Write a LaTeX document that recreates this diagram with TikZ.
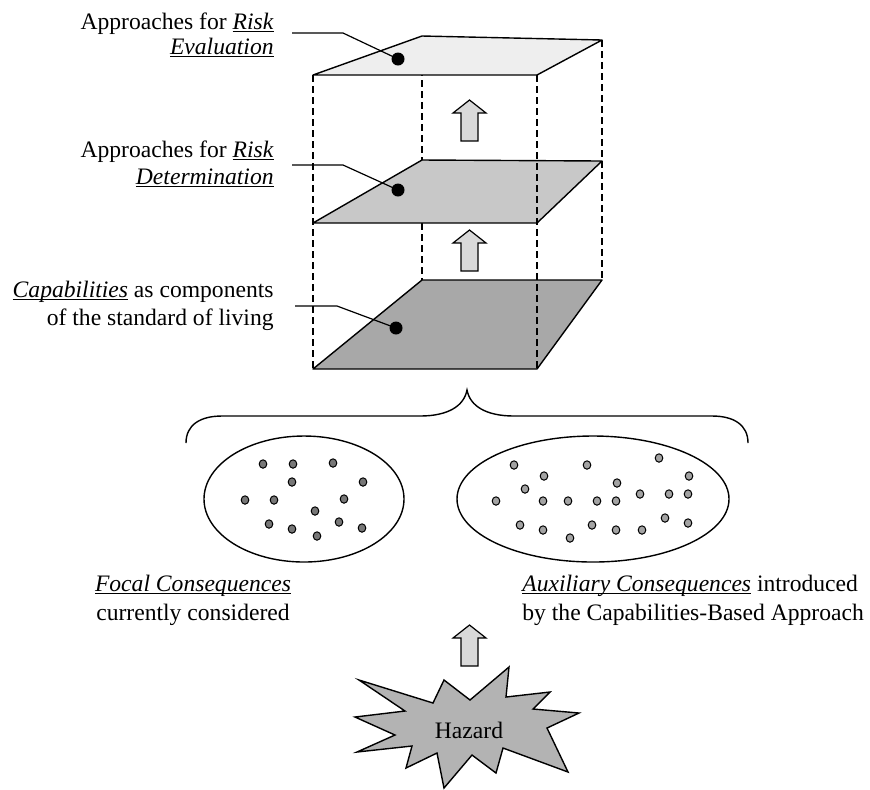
\documentclass[tikz,border=0pt]{standalone}
\usepackage{fontspec}
\setmainfont{Liberation Serif}
\usetikzlibrary{shapes.geometric}
\definecolor{topfill}{HTML}{EEEEEE}
\definecolor{midfill}{HTML}{C8C8C8}
\definecolor{botfill}{HTML}{A8A8A8}
\definecolor{arrowfill}{HTML}{D9D9D9}
\definecolor{hazfill}{HTML}{B3B3B3}
\definecolor{darkdot}{HTML}{777777}
\definecolor{lightdot}{HTML}{A3A3A3}
\newcommand{\uit}[1]{\underline{\smash{\textit{#1}}}}
\begin{document}
\begin{tikzpicture}[x=0.5pt,y=-0.5pt,
  lbl/.style={font=\fontsize{11.8}{14}\selectfont, inner sep=0pt},
  plane/.style={draw=black, line width=0.7pt, line join=round},
  hid/.style={dash pattern=on 3.5pt off 2pt, line width=0.6pt},
  lead/.style={line width=0.6pt},
  bigdot/.style={circle, fill=black, minimum size=6.5pt, inner sep=0pt},
  setdot/.style={ellipse, draw=black, line width=0.5pt, minimum width=3.8pt, minimum height=4.2pt, inner sep=0pt},
  blob/.style={draw=black, line width=0.7pt},
  blockup/.pic={\draw[fill=arrowfill, line width=0.6pt] (-8.5,41)--(-8.5,13)--(-16.5,13)--(0,0)--(16.5,13)--(8.5,13)--(8.5,41)--cycle;}
]
\useasboundingbox (0,0) rectangle (870,789);

% hidden edges behind the planes
\draw[hid] (422,36) -- (422,368);
\draw[hid] (602,40) -- (602,280);

% planes
\draw[plane, fill=botfill] (422,280) -- (602,280) -- (537,369) -- (313,369) -- cycle;
\draw[plane, fill=midfill] (422,160) -- (602,161) -- (537,223) -- (313,223) -- cycle;
\draw[plane, fill=topfill] (422,36) -- (602,40) -- (537,75) -- (313,75) -- cycle;

% front vertical edges
\draw[hid] (313,75) -- (313,369);
\draw[hid] (537,75) -- (537,369);

% arrows between layers
\pic at (469.5,100) {blockup};
\pic at (469.5,230) {blockup};
\pic at (469.5,625) {blockup};

% layer dots
\node[bigdot] (d1) at (398,59) {};
\node[bigdot] (d2) at (398,190) {};
\node[bigdot] (d3) at (396,328) {};

% labels
\node[lbl, anchor=base east] (l1a) at (274,29) {Approaches for \uit{Risk}};
\node[lbl, anchor=base east] (l1b) at (274,54) {\uit{Evaluation}};
\node[lbl, anchor=base east] (l2a) at (274,157) {Approaches for \uit{Risk}};
\node[lbl, anchor=base east] (l2b) at (274,184) {\uit{Determination}};
\node[lbl, anchor=base east] (l3a) at (274,297) {\uit{Capabilities} as components};
\node[lbl, anchor=base east] (l3b) at (274,325) {of the standard of living};

% leaders
\coordinate (s1) at (292,33); \coordinate (b1) at (343,33);
\coordinate (s2) at (292,165); \coordinate (b2) at (343,165);
\coordinate (s3) at (295,306); \coordinate (b3) at (337,306);
\draw[lead] (s1) -- (b1) -- (d1.center);
\draw[lead] (s2) -- (b2) -- (d2.center);
\draw[lead] (s3) -- (b3) -- (d3.center);

% brace
\draw[line width=0.7pt] (186,443) .. controls (186,425) and (200,416) .. (222,416) -- (420,416)
  .. controls (448,416) and (464,406) .. (467,390)
  .. controls (470,406) and (486,416) .. (514,416) -- (712,416)
  .. controls (734,416) and (748,425) .. (748,443);

% consequence sets
\node[blob, ellipse, minimum width=100pt, minimum height=63pt, inner sep=0pt] (focal) at (304,499) {};
\node[blob, ellipse, minimum width=136pt, minimum height=63pt, inner sep=0pt] (aux) at (593,499) {};

\foreach \p [count=\i] in {(263,464),(293,464),(333,463),(292,482),(363,482),(245,500),(274,500),(344,499),(315,511),(269,524),(292,529),(339,522),(362,528),(317,536)}
  \node[setdot, fill=darkdot] (fd\i) at \p {};
\foreach \p [count=\i] in {(514,465),(587,465),(659,458),(544,476),(617,483),(525,489),(496,501),(543,501),(568,501),(597,501),(616,501),(640,494),(669,494),(689,476),(688,494),(520,525),(543,530),(570,538),(592,525),(616,530),(642,530),(665,518),(688,523)}
  \node[setdot, fill=lightdot] (ad\i) at \p {};

% set captions
\node[lbl, anchor=base] (c1a) at (193,591) {\uit{Focal Consequences}};
\node[lbl, anchor=base] (c1b) at (193,620) {currently considered};
\node[lbl, anchor=base west] (c2a) at (522,591) {\uit{Auxiliary Consequences} introduced};
\node[lbl, anchor=base west] (c2b) at (522,620) {by the Capabilities-Based Approach};

% hazard
\draw[blob, fill=hazfill, line join=miter] (359,680) -- (433,703) -- (444,680) -- (470,700) -- (509,667) -- (506,697)
  -- (550,692) -- (533,709) -- (579,713) -- (547,728) -- (568,772) -- (503,748) -- (496,773) -- (472,755)
  -- (444,788) -- (437,753) -- (406,768) -- (412,746) -- (357,752) -- (395,735) -- (355,717) -- (405,711) -- cycle;
\node[lbl] (haz) at (469,730) {Hazard};
\end{tikzpicture}
\end{document}
